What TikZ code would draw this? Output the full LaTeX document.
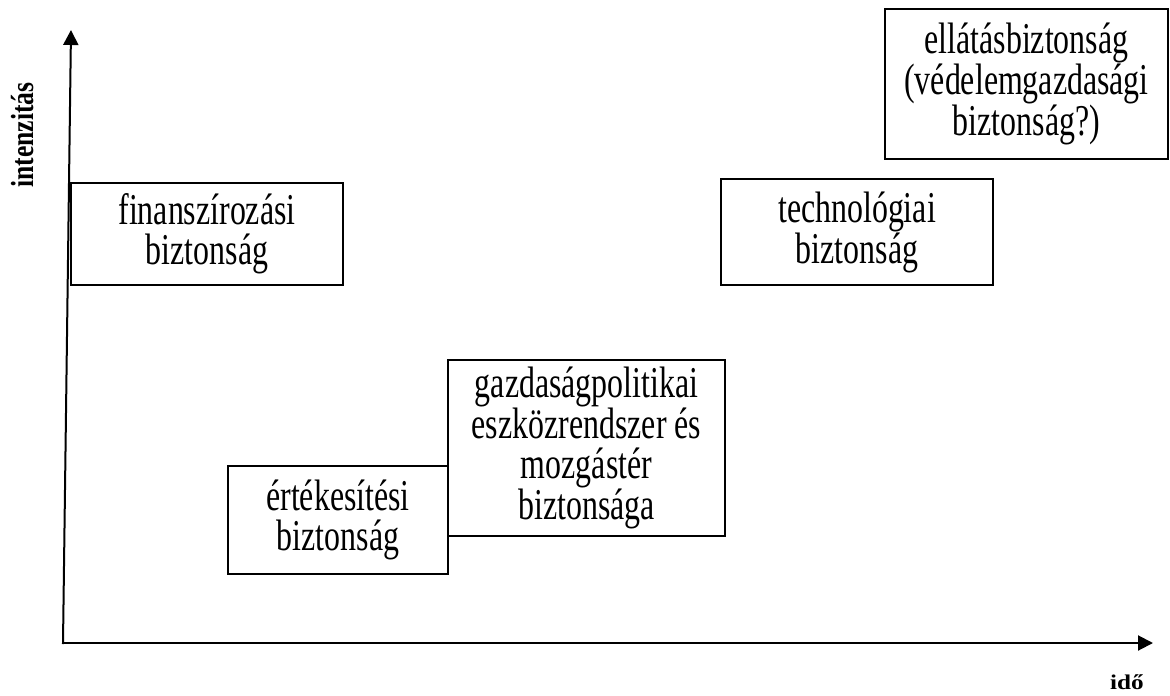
\documentclass[tikz,border=0pt]{standalone}
\usepackage{fontspec}
\setmainfont{Liberation Serif}
\newfontfamily\boxfont[FakeStretch=0.725]{Liberation Serif}
\newfontfamily\ylabfont[FakeStretch=0.8]{Liberation Serif}
\newfontfamily\xlabfont[FakeStretch=1.2]{Liberation Serif}
\usetikzlibrary{arrows.meta}

\tikzset{
  secbox/.style={draw, line width=1.5pt, align=center, inner sep=0pt,
    font=\boxfont\fontsize{44}{40}\selectfont},
  axis/.style={line width=2pt, line cap=rect, -{Triangle[length=15pt,width=15pt]}},
  ylabel/.style={font=\ylabfont\fontsize{32}{36}\selectfont\bfseries, inner sep=0pt},
  xlabel/.style={font=\xlabfont\fontsize{21}{24}\selectfont\bfseries, inner sep=0pt}
}

\begin{document}
\begin{tikzpicture}[x=1pt, y=-1pt]

    \useasboundingbox (0,0) rectangle (1170,696);

    % axes
    \coordinate (origin) at (63,643);
    \coordinate (ytip) at (71,30);
    \coordinate (xtip) at (1153,643);
    \draw[axis] (origin) -- (ytip);
    \draw[axis] (origin) -- (xtip);
    \node[ylabel, rotate=90, anchor=base] (ylab) at (33,135) {intenzitás};
    \node[xlabel, anchor=base] (xlab) at (1127,689) {idő};

    % boxes
    \node[secbox, minimum width=272pt, minimum height=102pt] (fin) at (207,234)
        {finanszírozási\\biztonság};
    \node[secbox, minimum width=272pt, minimum height=106pt] (tech) at (857,232)
        {technológiai\\biztonság};
    \node[secbox, minimum width=283pt, minimum height=150pt] (ell) at (1026.5,84)
        {ellátásbiztonság\\(védelemgazdasági\\biztonság?)};
    \node[secbox, minimum width=220pt, minimum height=108pt] (ert) at (338,520)
        {értékesítési\\biztonság};
    \node[secbox, minimum width=277pt, minimum height=176pt] (gaz) at (586.5,448)
        {gazdaságpolitikai\\eszközrendszer és\\mozgástér\\biztonsága};

\end{tikzpicture}
\end{document}
